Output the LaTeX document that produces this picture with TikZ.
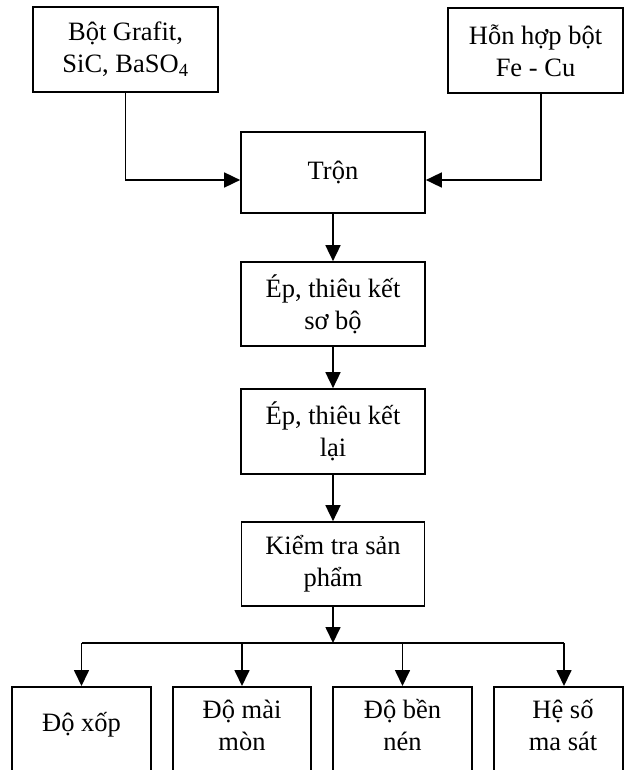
\documentclass[tikz,border=0pt]{standalone}
\usepackage{fontspec}
\setmainfont{Liberation Serif}
\usetikzlibrary{arrows.meta}
\tikzset{
  box/.style={draw, line width=1.7pt, align=center, inner sep=0pt,
    font=\fontsize{26.5}{32}\selectfont},
  lbl/.style={align=center, inner sep=0pt, font=\fontsize{26.5}{32}\selectfont},
  conn/.style={line width=1.7pt, -{Triangle[length=16pt,width=15pt]}},
  plain/.style={line width=1.7pt}
}
\begin{document}
\begin{tikzpicture}[x=1pt,y=-1pt]
\useasboundingbox (0,0) rectangle (624,770);
\clip (0,0) rectangle (624,770);
% inputs
\node[box, minimum width=185pt, minimum height=85pt] (A) at (125.5,49.5) {Bột Grafit,\\SiC, BaSO\textsubscript{4}};
\node[box, minimum width=175pt, minimum height=85pt] (B) at (535.5,50.5) {Hỗn hợp bột\\Fe - Cu};
% main chain
\node[box, minimum width=184pt, minimum height=81pt] (tron) at (333,172.5) {Trộn};
\node[box, minimum width=184pt, minimum height=84pt] (ep1) at (333,304) {Ép, thiêu kết\\sơ bộ};
\node[box, minimum width=184pt, minimum height=85pt] (ep2) at (333,431.5) {Ép, thiêu kết\\lại};
\node[box, minimum width=183pt, minimum height=84pt] (kt) at (333,564) {Kiểm tra sản\\phẩm};
% outputs
\node[box, minimum width=139pt, minimum height=130pt, anchor=north] (o1) at (81.5,686) {};
\node[box, minimum width=138pt, minimum height=130pt, anchor=north] (o2) at (242,686) {};
\node[box, minimum width=139pt, minimum height=130pt, anchor=north] (o3) at (402.5,686) {};
\node[box, minimum width=129pt, minimum height=130pt, anchor=north] (o4) at (558.5,686) {};
\node[lbl] (t1) at (81.5,725) {Độ xốp};
\node[lbl] (t2) at (242,725) {Độ mài\\mòn};
\node[lbl] (t3) at (402.5,725) {Độ bền\\nén};
\node[lbl] (t4) at (563,725) {Hệ số\\ma sát};
% connectors
\draw[conn] (A.south) |- ([yshift=-7.5pt]tron.west);
\draw[conn] ([xshift=5.5pt]B.south) |- ([yshift=-7.5pt]tron.east);
\draw[conn] (tron) -- (ep1);
\draw[conn] (ep1) -- (ep2);
\draw[conn] (ep2) -- (kt);
\coordinate (j) at (333,643);
\coordinate (jl) at (81.5,643);
\coordinate (jr) at (564,643);
\draw[conn] (kt.south) -- (j);
\draw[plain] (jl) -- (jr);
\draw[conn] (jl) -- (o1.north);
\draw[conn] (o2.north |- j) -- (o2.north);
\draw[conn] (o3.north |- j) -- (o3.north);
\draw[conn] (jr) -- (jr |- o4.north);
\end{tikzpicture}
\end{document}
